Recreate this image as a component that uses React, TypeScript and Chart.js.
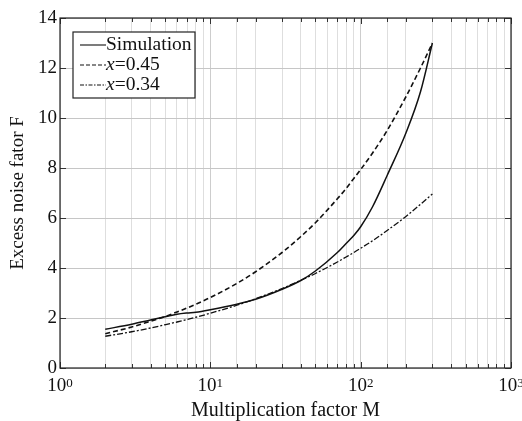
import React, { useEffect, useRef } from "react";
import { Chart, registerables } from "chart.js";

Chart.register(...registerables);

const multiplication = [2, 3, 4, 5, 6, 7, 8, 10, 15, 20, 30, 40, 50, 70, 80, 90, 100, 120, 150, 200, 250, 300];
const simulation = [1.55, 1.75, 1.92, 2.05, 2.15, 2.2, 2.23, 2.33, 2.55, 2.75, 3.15, 3.5, 3.88, 4.62, 4.98, 5.3, 5.65, 6.45, 7.7, 9.4, 11.05, 13.0];
const fitX045 = [1.37, 1.64, 1.87, 2.06, 2.24, 2.4, 2.55, 2.82, 3.38, 3.85, 4.62, 5.26, 5.81, 6.77, 7.18, 7.58, 7.94, 8.6, 9.5, 10.85, 12.0, 13.0];
const fitX034 = [1.27, 1.45, 1.6, 1.73, 1.84, 1.94, 2.03, 2.19, 2.51, 2.77, 3.18, 3.51, 3.78, 4.24, 4.44, 4.62, 4.79, 5.09, 5.5, 6.06, 6.55, 6.96];
const seriesLabels = ["Simulation", "=0.45", "=0.34"];
const xTickExponents: Record<number, string> = { 1: "0", 10: "1", 100: "2", 1000: "3" };
const xTitle = "Multiplication factor M";
const yTitle = "Excess noise fator F";

const FONT = "'Liberation Serif', 'Times New Roman', serif";

const isPow10 = (v: number) => Math.abs(Math.log10(v) - Math.round(Math.log10(v))) < 1e-9;

const tickPlugin = {
  id: "inwardTicks",
  afterDatasetsDraw(chart: any) {
    const { ctx, chartArea: a, scales } = chart;
    const xs = scales.x;
    const ys = scales.y;
    ctx.save();
    ctx.strokeStyle = "#333";
    ctx.lineWidth = 1;
    ctx.beginPath();
    xs.ticks.forEach((t: any) => {
      const px = Math.round(xs.getPixelForValue(t.value)) + 0.5;
      const len = isPow10(t.value) ? 6 : 4;
      ctx.moveTo(px, a.bottom);
      ctx.lineTo(px, a.bottom - len);
      ctx.moveTo(px, a.top);
      ctx.lineTo(px, a.top + len);
    });
    ys.ticks.forEach((t: any) => {
      const py = Math.round(ys.getPixelForValue(t.value)) + 0.5;
      ctx.moveTo(a.left, py);
      ctx.lineTo(a.left + 6, py);
      ctx.moveTo(a.right, py);
      ctx.lineTo(a.right - 6, py);
    });
    ctx.stroke();
    ctx.strokeStyle = "#222";
    ctx.lineWidth = 1.2;
    ctx.strokeRect(a.left, a.top, a.right - a.left, a.bottom - a.top);

    // x tick labels with superscript exponents
    ctx.fillStyle = "#111";
    ctx.textBaseline = "alphabetic";
    ctx.textAlign = "left";
    xs.ticks.forEach((t: any) => {
      const e = xTickExponents[t.value];
      if (e === undefined) return;
      const px = xs.getPixelForValue(t.value);
      ctx.font = `19px ${FONT}`;
      const w1 = ctx.measureText("10").width;
      ctx.font = `13px ${FONT}`;
      const w2 = ctx.measureText(e).width;
      const x0 = px - (w1 + w2) / 2;
      const base = a.bottom + 23;
      ctx.font = `19px ${FONT}`;
      ctx.fillText("10", x0, base);
      ctx.font = `13px ${FONT}`;
      ctx.fillText(e, x0 + w1, base - 4);
    });
    ctx.restore();
  },
  afterDraw(chart: any) {
    const { ctx, chartArea: a } = chart;
    const bx = a.left + 13;
    const by = a.top + 14;
    const bw = 122;
    const bh = 66;
    ctx.save();
    ctx.fillStyle = "#fff";
    ctx.fillRect(bx, by, bw, bh);
    ctx.strokeStyle = "#222";
    ctx.lineWidth = 1.2;
    ctx.strokeRect(bx, by, bw, bh);
    const dashes = [[], [4, 2], [4, 1.5, 1.5, 1.5]];
    chart.data.datasets.forEach((ds: any, i: number) => {
      const y = by + 13 + i * 20;
      ctx.strokeStyle = "#111";
      ctx.lineWidth = 1.1;
      ctx.setLineDash(dashes[i]);
      ctx.beginPath();
      ctx.moveTo(bx + 7, y);
      ctx.lineTo(bx + 33, y);
      ctx.stroke();
      ctx.setLineDash([]);
      ctx.fillStyle = "#111";
      ctx.textBaseline = "middle";
      ctx.textAlign = "left";
      let tx = bx + 33;
      if (i > 0) {
        ctx.font = `italic 19.5px ${FONT}`;
        ctx.fillText("x", tx, y);
        tx += ctx.measureText("x").width;
      }
      ctx.font = `19.5px ${FONT}`;
      ctx.fillText(ds.label, tx, y);
    });
    ctx.restore();
  },
};

export default function App() {
  const ref = useRef<HTMLCanvasElement>(null);
  useEffect(() => {
    document.body.style.margin = "0";
    const c = ref.current!;
    const mk = (d: number[]) => multiplication.map((m, i) => ({ x: m, y: d[i] }));
    const chart = new Chart(c, {
      type: "line",
      data: {
        datasets: [
          { label: seriesLabels[0], data: mk(simulation), borderColor: "#111", borderWidth: 1.5, pointRadius: 0, cubicInterpolationMode: "monotone" },
          { label: seriesLabels[1], data: mk(fitX045), borderColor: "#111", borderWidth: 1.6, borderDash: [5, 3], pointRadius: 0, cubicInterpolationMode: "monotone" },
          { label: seriesLabels[2], data: mk(fitX034), borderColor: "#111", borderWidth: 1.3, borderDash: [6, 2, 2, 2], pointRadius: 0, cubicInterpolationMode: "monotone" },
        ],
      },
      options: {
        responsive: false,
        animation: false,
        layout: { padding: { left: 0, top: 18, right: 11, bottom: 0 } },
        plugins: { legend: { display: false }, tooltip: { enabled: false } },
        scales: {
          x: {
            type: "logarithmic",
            min: 1,
            max: 1000,
            grid: {
              drawTicks: false,
              color: (ctx: any) => (ctx.tick && isPow10(ctx.tick.value) ? "#cdcdcd" : "#dedede"),
              lineWidth: 1,
            },
            border: { display: false },
            ticks: {
              autoSkip: false,
              maxRotation: 0,
              padding: 3,
              color: "#111",
              font: { family: FONT, size: 19 },
              callback: () => "",
            },
            title: { display: true, text: xTitle, color: "#111", font: { family: FONT, size: 20 }, padding: { top: 0, bottom: -2 } },
            afterFit: (s: any) => {
              s.height = 53;
              s.paddingLeft = 0;
              s.paddingRight = 0;
            },
          },
          y: {
            min: 0,
            max: 14,
            grid: { drawTicks: false, color: "#c6c6c6", lineWidth: 1 },
            border: { display: false },
            ticks: {
              stepSize: 2,
              padding: 3,
              color: "#111",
              font: { family: FONT, size: 19 },
            },
            title: { display: true, text: yTitle, color: "#111", font: { family: FONT, size: 19 }, padding: { top: 7, bottom: 0 } },
            afterFit: (s: any) => {
              s.width = 60;
              s.paddingTop = 0;
              s.paddingBottom = 0;
            },
          },
        },
      },
      plugins: [tickPlugin],
    });
    return () => chart.destroy();
  }, []);
  return <canvas ref={ref} width={522} height={421} style={{ display: "block" }} />;
}
